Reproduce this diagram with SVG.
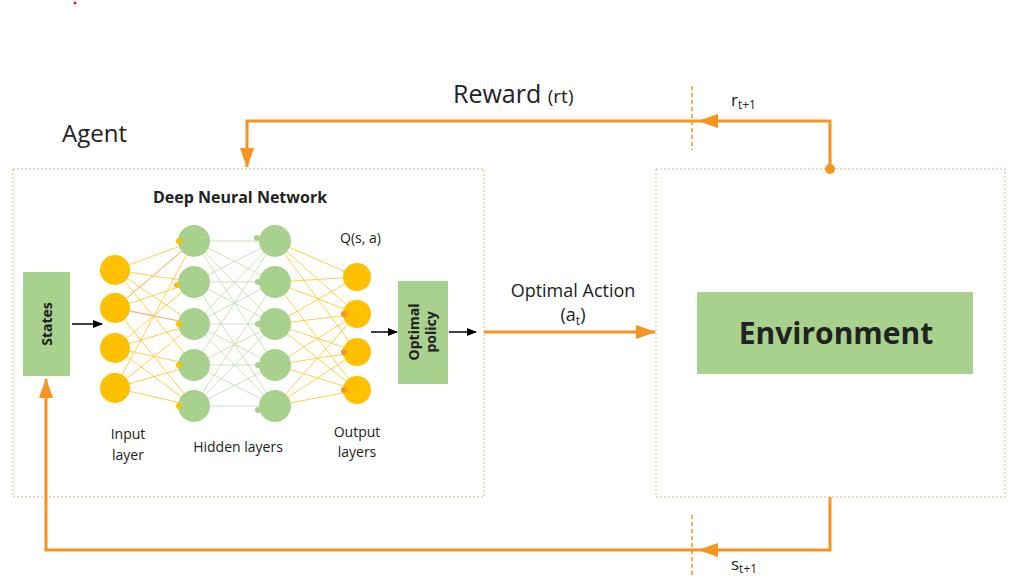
<svg xmlns="http://www.w3.org/2000/svg" width="1013" height="579" viewBox="0 0 1013 579">
<defs>
<style>
.t{font-family:"Open Sans","Liberation Sans",sans-serif;fill:#222}
.b{font-weight:bold}
.box{fill:none;stroke:#F4B183;stroke-width:1;stroke-dasharray:2,2}
.flow{fill:none;stroke:#F7941D;stroke-width:3}
.dash{stroke:#F7941D;stroke-width:1.5;stroke-dasharray:4,3}
.g{fill:#A9D18E}
.y{fill:#FFC000}
.l1{stroke:#FFC000;stroke-width:0.9;opacity:0.8}
.l2{stroke:#C5E0B4;stroke-width:0.9}
.bk{stroke:#000;stroke-width:1.5}
</style>
<marker id="ak" markerWidth="10" markerHeight="8" refX="9" refY="4" orient="auto" markerUnits="userSpaceOnUse"><path d="M0,0 L10,4 L0,8 Z" fill="#000"/></marker>
<marker id="ao2" markerWidth="20" markerHeight="14" refX="19" refY="7" orient="auto" markerUnits="userSpaceOnUse"><path d="M0,0 L20,7 L0,14 Z" fill="#F7941D"/></marker>
</defs>
<rect width="1013" height="579" fill="#fff"/>
<circle cx="75" cy="3" r="1.5" fill="#E02020"/>

<g id="agent">
<rect class="box" x="13" y="169" width="471" height="328"/>
<text class="t" x="62" y="142" font-size="24">Agent</text>
<text class="t b" x="240" y="203" font-size="16" text-anchor="middle">Deep Neural Network</text>
</g>

<g id="environment">
<rect class="box" x="656" y="169" width="349" height="328"/>
<rect class="g" x="697" y="292" width="276" height="82"/>
<text class="t b" x="836" y="344" font-size="30" text-anchor="middle" fill="#111">Environment</text>
</g>

<g id="states">
<rect class="g" x="23" y="272" width="47" height="104"/>
<text class="t b" transform="translate(52,324) rotate(-90)" font-size="14" text-anchor="middle">States</text>
</g>

<g id="policy">
<rect class="g" x="398" y="281" width="50" height="103"/>
<text class="t b" transform="translate(419,332) rotate(-90)" font-size="14" text-anchor="middle">Optimal</text>
<text class="t b" transform="translate(436,332) rotate(-90)" font-size="14" text-anchor="middle">policy</text>
</g>

<g id="network-edges">
<g class="l1">
<path d="M115,270L194,241M115,270L194,282M115,270L194,324M115,270L194,365"/>
<path d="M115,308L194,241M115,308L194,282M115,308L194,324M115,308L194,406"/>
<path d="M115,348L194,282M115,348L194,324M115,348L194,365M115,348L194,406"/>
<path d="M115,388L194,241M115,388L194,324M115,388L194,365M115,388L194,406"/>
<path d="M275,241L357,277M275,241L357,314M275,241L357,352"/>
<path d="M275,282L357,277M275,282L357,314M275,282L357,390"/>
<path d="M275,324L357,277M275,324L357,314M275,324L357,352M275,324L357,390"/>
<path d="M275,365L357,314M275,365L357,352M275,365L357,390"/>
<path d="M275,406L357,314M275,406L357,352M275,406L357,390"/>
</g>
<path d="M115,308L194,241M115,308L194,324" stroke="#F4B183" stroke-width="1"/>
<g class="l2">
<path d="M194,241L275,241M194,241L275,282M194,241L275,324M194,241L275,365"/>
<path d="M194,282L275,241M194,282L275,282M194,282L275,324M194,282L275,406"/>
<path d="M194,324L275,241M194,324L275,282M194,324L275,324M194,324L275,365M194,324L275,406"/>
<path d="M194,365L275,241M194,365L275,324M194,365L275,365M194,365L275,406"/>
<path d="M194,406L275,282M194,406L275,324M194,406L275,365M194,406L275,406"/>
</g>
</g>

<g id="input-layer" class="y">
<circle cx="115" cy="270" r="15"/><circle cx="115" cy="308" r="15"/><circle cx="115" cy="348" r="15"/><circle cx="115" cy="388" r="15"/>
</g>
<g id="hidden-layer-1" class="g">
<circle cx="194" cy="241" r="16"/><circle cx="194" cy="282" r="16"/><circle cx="194" cy="324" r="16"/><circle cx="194" cy="365" r="16"/><circle cx="194" cy="406" r="16"/>
<g class="y"><circle cx="179" cy="241" r="3"/><circle cx="177" cy="285" r="3"/><circle cx="179" cy="324" r="3"/><circle cx="179" cy="365" r="3"/><circle cx="179" cy="406" r="3"/></g>
</g>
<g id="hidden-layer-2" class="g">
<circle cx="275" cy="241" r="16"/><circle cx="275" cy="282" r="16"/><circle cx="275" cy="324" r="16"/><circle cx="275" cy="365" r="16"/><circle cx="275" cy="406" r="16"/>
<circle cx="257" cy="238" r="3"/><circle cx="258" cy="282" r="3"/><circle cx="258" cy="324" r="3"/><circle cx="258" cy="365" r="3"/><circle cx="258" cy="410" r="3"/>
</g>
<g id="output-layer" class="y">
<circle cx="357" cy="277" r="14"/><circle cx="357" cy="314" r="14"/><circle cx="357" cy="352" r="14"/><circle cx="357" cy="390" r="14"/>
<circle cx="344" cy="314" r="3" fill="#F7941D"/><circle cx="344" cy="352" r="3" fill="#F7941D"/><circle cx="344" cy="390" r="3" fill="#F7941D"/>
</g>

<g id="network-labels">
<text class="t" x="340" y="243" font-size="14">Q(s, a)</text>
<text class="t" x="128" y="439" font-size="14" text-anchor="middle">Input</text>
<text class="t" x="128" y="460" font-size="14" text-anchor="middle">layer</text>
<text class="t" x="238" y="452" font-size="14" text-anchor="middle">Hidden layers</text>
<text class="t" x="357" y="437" font-size="14" text-anchor="middle">Output</text>
<text class="t" x="357" y="457" font-size="14" text-anchor="middle">layers</text>
</g>

<g id="connectors">
<line class="bk" x1="72" y1="324" x2="102" y2="324" marker-end="url(#ak)"/>
<line class="bk" x1="371" y1="332" x2="397" y2="332" marker-end="url(#ak)"/>
<line class="bk" x1="449" y1="332" x2="476" y2="332" marker-end="url(#ak)"/>
<line class="flow" x1="484" y1="332" x2="655" y2="332" marker-end="url(#ao2)"/>
<polyline class="flow" points="830,169 830,121 247,121 247,167" marker-end="url(#ao2)"/>
<path d="M718,114 L698,121 L718,128 Z" fill="#F7941D"/>
<circle cx="830" cy="169" r="5" fill="#F7941D"/>
<polyline class="flow" points="830,497 830,550 46,550 46,379" marker-end="url(#ao2)"/>
<path d="M718,543 L698,550 L718,557 Z" fill="#F7941D"/>
<line class="dash" x1="692" y1="86" x2="692" y2="150"/>
<line class="dash" x1="692" y1="515" x2="692" y2="578"/>
</g>

<g id="flow-labels">
<text class="t" x="453" y="103" font-size="25">Reward <tspan font-size="19">(rt)</tspan></text>
<text class="t" x="731" y="106" font-size="17">r<tspan font-size="12" dy="3">t+1</tspan></text>
<text class="t" x="731" y="570" font-size="17">s<tspan font-size="12" dy="3">t+1</tspan></text>
<text class="t" x="573" y="297" font-size="18" text-anchor="middle">Optimal Action</text>
<text class="t" x="573" y="321" font-size="18" text-anchor="middle">(a<tspan font-size="12" dy="4">t</tspan><tspan dy="-4">)</tspan></text>
</g>
</svg>
